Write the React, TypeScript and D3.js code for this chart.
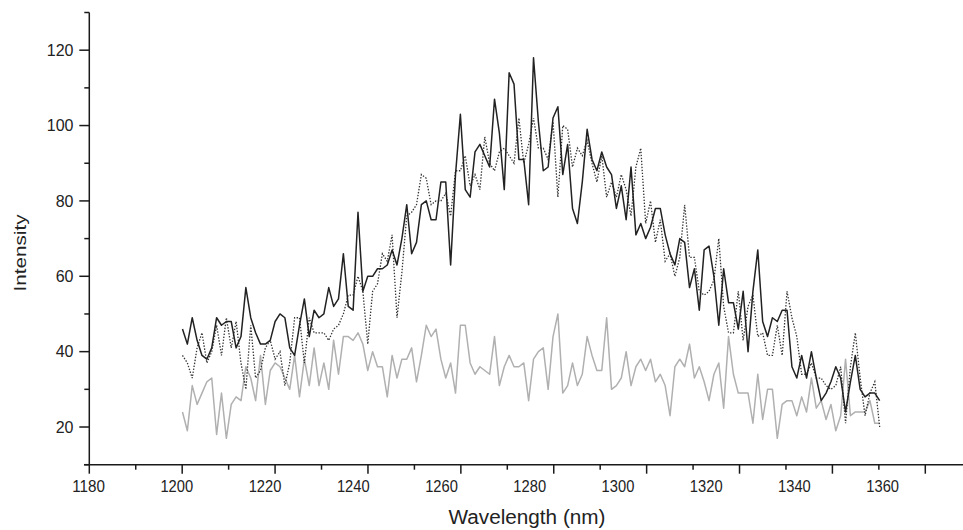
import React, { useEffect, useRef } from 'react';
import * as d3 from 'd3';

// tick labels
const xLabels = [1180, 1200, 1220, 1240, 1260, 1280, 1300, 1320, 1340, 1360];
const yLabels = [20, 40, 60, 80, 100, 120];

// three spectra (one value per sample)
const solid = [
  46, 42, 49, 43, 39, 38, 41, 49, 47, 48, 48, 41, 44, 57, 49, 45, 42, 42, 43, 48, 50, 49, 41, 39, 47, 54, 44,
  51, 49, 50, 57, 52, 54, 66, 52, 51, 77, 56, 60, 60, 62, 62, 63, 67, 63, 70, 79, 66, 69, 79, 80, 75, 75, 85,
  85, 63, 87, 103, 83, 81, 93, 95, 92, 89, 107, 98, 83, 114, 111, 91, 91, 79, 118, 101, 88, 89, 102, 105, 87, 95,
  78, 74, 85, 99, 91, 88, 93, 89, 87, 78, 84, 75, 89, 71, 74, 70, 73, 78, 78, 71, 66, 63, 70, 69, 57, 62, 51,
  67, 68, 60, 47, 62, 53, 53, 46, 56, 40, 56, 67, 48, 44, 49, 48, 51, 51, 36, 33, 39, 33, 40, 33, 27, 29, 32,
  36, 33, 24, 32, 39, 30, 28, 29, 29, 27,
];

const dotted = [
  39, 37, 33, 41, 45, 37, 40, 47, 39, 49, 41, 48, 37, 30, 47, 33, 35, 41, 43, 38, 40, 31, 37, 49, 49, 37, 49,
  45, 45, 45, 43, 46, 47, 50, 55, 55, 60, 56, 42, 56, 58, 66, 64, 71, 49, 61, 76, 77, 79, 87, 86, 79, 80, 80,
  82, 76, 88, 88, 92, 84, 87, 83, 97, 90, 88, 93, 94, 92, 90, 102, 90, 95, 102, 94, 94, 91, 101, 81, 100, 99,
  89, 94, 92, 96, 90, 85, 92, 81, 85, 81, 87, 83, 76, 89, 94, 74, 80, 69, 75, 64, 66, 60, 65, 79, 65, 65, 56,
  55, 56, 59, 70, 52, 45, 45, 56, 43, 52, 55, 44, 45, 39, 39, 47, 39, 56, 49, 44, 34, 34, 37, 33, 33, 31, 30,
  31, 36, 21, 36, 45, 33, 23, 29, 32, 20,
];

const gray = [
  24, 19, 31, 26, 29, 32, 33, 18, 29, 17, 26, 28, 27, 36, 33, 27, 39, 26, 35, 37, 36, 33, 30, 39, 28, 38, 31,
  41, 31, 37, 30, 43, 34, 44, 44, 43, 45, 42, 35, 40, 36, 36, 28, 39, 33, 38, 38, 41, 32, 39, 47, 44, 46, 38,
  33, 37, 29, 47, 47, 37, 34, 36, 35, 34, 44, 31, 36, 39, 36, 36, 37, 27, 38, 40, 41, 30, 44, 50, 29, 31,
  37, 31, 34, 44, 39, 35, 35, 49, 30, 31, 33, 40, 31, 36, 38, 35, 38, 32, 34, 31, 23, 36, 38, 36, 42, 33, 36,
  32, 27, 34, 37, 25, 44, 34, 29, 29, 29, 21, 34, 22, 30, 30, 17, 26, 27, 27, 23, 28, 24, 33, 25, 27, 22, 26,
  19, 23, 38, 23, 24, 24, 24, 27, 21, 21,
];

// sampling of the spectrometer (nm)
const startNm = 1201.3;
const stepNm = 1.105;
const wavelengths = solid.map((_, i) => startNm + i * stepNm);

const FONT = "'Liberation Sans', Arial, Helvetica, sans-serif";

const App = () => {
  const ref = useRef<SVGSVGElement>(null);

  useEffect(() => {
    const width = 963;
    const height = 530;
    const svg = d3.select(ref.current);
    svg.selectAll('*').remove();
    svg.attr('width', width).attr('height', height);

    const x = d3.scaleLinear().domain([1180, 1360]).range([88.5, 882.7]);
    // the printed tick marks sit on a slightly wider grid than the labels
    const xTick = d3.scaleLinear().domain([1180, 1360]).range([89.3, 925.3]);
    const y = d3.scaleLinear().domain([10, 130]).range([464.7, 12.5]);

    const axisColor = '#1a1a1a';
    const x0 = 89.3;
    const yBase = y(10);

    // y axis
    svg.append('line')
      .attr('x1', x0).attr('x2', x0)
      .attr('y1', y(130)).attr('y2', yBase)
      .attr('stroke', axisColor).attr('stroke-width', 1.5);

    d3.range(10, 131, 10).forEach((v) => {
      const major = v % 20 === 0;
      svg.append('line')
        .attr('x1', x0 - (major ? 10 : 5)).attr('x2', x0)
        .attr('y1', y(v)).attr('y2', y(v))
        .attr('stroke', axisColor).attr('stroke-width', 1.5);
    });

    svg.selectAll('.ylab')
      .data(yLabels)
      .enter()
      .append('text')
      .attr('x', 73.5)
      .attr('y', (d) => y(d) + 5.8)
      .attr('text-anchor', 'end')
      .attr('font-family', FONT)
      .attr('font-size', 16)
      .attr('fill', '#222')
      .text((d) => d);

    // x axis
    svg.append('line')
      .attr('x1', 84).attr('x2', width)
      .attr('y1', yBase).attr('y2', yBase)
      .attr('stroke', axisColor).attr('stroke-width', 1.5);

    d3.range(1180, 1361, 10).forEach((v) => {
      const major = v % 20 === 0;
      svg.append('line')
        .attr('x1', xTick(v)).attr('x2', xTick(v))
        .attr('y1', yBase).attr('y2', yBase + (major ? 9 : 5))
        .attr('stroke', axisColor).attr('stroke-width', 1.5);
    });

    svg.selectAll('.xlab')
      .data(xLabels)
      .enter()
      .append('text')
      .attr('x', (d) => x(d))
      .attr('y', 491.7)
      .attr('text-anchor', 'middle')
      .attr('font-family', FONT)
      .attr('font-size', 17)
      .attr('textLength', 32.7)
      .attr('lengthAdjust', 'spacingAndGlyphs')
      .attr('fill', '#222')
      .text((d) => d);

    // axis titles
    svg.append('text')
      .attr('x', 527)
      .attr('y', 524)
      .attr('text-anchor', 'middle')
      .attr('font-family', FONT)
      .attr('font-size', 20)
      .attr('textLength', 157)
      .attr('lengthAdjust', 'spacingAndGlyphs')
      .attr('fill', '#222')
      .text('Wavelength (nm)');

    svg.append('text')
      .attr('transform', 'translate(25.5,253) rotate(-90)')
      .attr('text-anchor', 'middle')
      .attr('font-family', FONT)
      .attr('font-size', 16)
      .attr('textLength', 77)
      .attr('lengthAdjust', 'spacingAndGlyphs')
      .attr('fill', '#222')
      .text('Intensity');

    const line = d3.line<number>()
      .x((_, i) => x(wavelengths[i]))
      .y((d) => y(d));

    svg.append('path')
      .datum(gray)
      .attr('d', line)
      .attr('fill', 'none')
      .attr('stroke', '#b0b0b0')
      .attr('stroke-width', 1.5)
      .attr('stroke-linejoin', 'round');

    svg.append('path')
      .datum(dotted)
      .attr('d', line)
      .attr('fill', 'none')
      .attr('stroke', '#333')
      .attr('stroke-width', 1.3)
      .attr('stroke-dasharray', '1.4,1.6');

    svg.append('path')
      .datum(solid)
      .attr('d', line)
      .attr('fill', 'none')
      .attr('stroke', '#222')
      .attr('stroke-width', 1.5)
      .attr('stroke-linejoin', 'round');
  }, []);

  return (
    <div style={{ position: 'absolute', left: 0, top: 0 }}>
      <svg ref={ref} style={{ display: 'block' }}></svg>
    </div>
  );
};

export default App;
